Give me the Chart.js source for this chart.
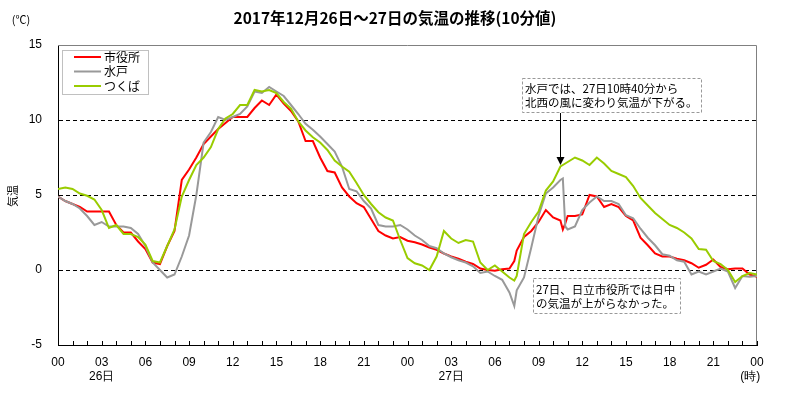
<!DOCTYPE html>
<html>
<head>
<meta charset="utf-8">
<script src="https://cdn.jsdelivr.net/npm/chart.js@4.4.0/dist/chart.umd.min.js"></script>
<style>
  body { margin: 0; background: #ffffff; }
  #wrap { width: 800px; height: 400px; }
</style>
</head>
<body>
<div id="wrap"><canvas id="myChart"></canvas></div>
<script>
// TIEMPO EN MINUTOS DESDE 26日 00:00
const minutos = [
  0, 30, 60, 90, 120, 150, 180, 210, 240, 270, 300, 330, 360, 390, 420, 450, 480, 510, 540, 570, 600, 630, 660, 690, 720,
  750, 780, 810, 840, 870, 900, 930, 960, 990, 1020, 1050, 1080, 1110, 1140, 1170, 1200, 1230, 1260, 1290, 1320, 1350, 1380, 1410, 1440,
  1470, 1500, 1530, 1560, 1590, 1620, 1650, 1680, 1710, 1740, 1770, 1800, 1830, 1860,
  1880,
  1890, 1920, 1950, 1980, 2010, 2040, 2070,
  2080, 2090,
  2100, 2130, 2160, 2190, 2220, 2250, 2280, 2310, 2340, 2370, 2400, 2430, 2460, 2490, 2520, 2550, 2580, 2610, 2640, 2670, 2700, 2730, 2760, 2790, 2820, 2850, 2880
];

// 市役所
const shiyakusho = [
  4.9, 4.6, 4.4, 4.2, 3.9, 3.9, 3.9, 3.9, 3.0, 2.5, 2.5, 1.9, 1.4, 0.5, 0.4, 1.6, 2.6, 6.0, 6.7, 7.5, 8.4, 8.9, 9.4, 9.8, 10.2,
  10.2, 10.2, 10.8, 11.3, 11.0, 11.7, 11.1, 10.6, 9.9, 8.6, 8.6, 7.5, 6.6, 6.5, 5.5, 4.9, 4.45, 4.2, 3.4, 2.6, 2.3, 2.1, 2.2, 1.95,
  1.85, 1.7, 1.5, 1.35, 1.1, 0.9, 0.75, 0.55, 0.4, 0.1, 0.0, -0.05, 0.05, 0.1,
  0.6,
  1.3, 2.2, 2.6, 3.2, 4.0, 3.5, 3.3,
  2.7, 3.1,
  3.6, 3.6, 3.7, 5.0, 4.9, 4.2, 4.4, 4.2, 3.6, 3.3, 2.15, 1.65, 1.1, 0.9, 0.9, 0.75, 0.65, 0.45, 0.15, 0.35, 0.7, 0.2, 0.05, 0.1, 0.1, -0.3, -0.45
];

// 水戸
const mito = [
  4.9, 4.6, 4.4, 4.1, 3.6, 3.0, 3.2, 2.9, 2.9, 2.9, 2.8, 2.4, 1.6, 0.5, 0.0, -0.5, -0.3, 0.9, 2.3, 5.0, 8.5, 9.2, 10.2, 10.0, 10.2,
  10.4, 10.9, 11.9, 11.8, 12.2, 11.9, 11.6, 11.0, 10.4, 9.75, 9.35, 8.9, 8.4, 7.9, 6.9, 5.4, 5.25, 4.6, 4.1, 3.0, 2.9, 2.9, 3.0, 2.7,
  2.3, 2.0, 1.6, 1.45, 1.1, 0.85, 0.65, 0.5, 0.25, -0.2, -0.1, -0.4, -0.65, -1.5,
  -2.4,
  -1.35, -0.5, 1.5, 3.6, 5.1, 5.5, 6.0,
  6.1, 2.9,
  2.7, 2.9, 4.0, 4.5, 4.9, 4.6, 4.6, 4.4, 3.65, 3.45, 2.75, 2.15, 1.65, 1.05, 0.95, 0.65, 0.55, -0.3, -0.1, -0.3, -0.1, 0.1, -0.1, -1.2, -0.4, -0.45, -0.4
];

// つくば
const tsukuba = [
  5.4, 5.5, 5.4, 5.1, 4.95, 4.7, 4.0, 2.8, 3.0, 2.4, 2.4, 2.2, 1.7, 0.6, 0.5, 1.6, 2.7, 4.9, 6.0, 7.0, 7.5, 8.2, 9.4, 10.1, 10.4,
  11.0, 11.0, 12.0, 11.9, 12.0, 11.8, 11.2, 10.75, 9.9, 9.3, 8.85, 8.5, 8.0, 7.3, 6.9, 6.55, 5.8, 5.0, 4.4, 3.85, 3.5, 3.3, 2.0, 0.8,
  0.45, 0.3, 0.0, 0.9, 2.6, 2.1, 1.8, 2.0, 1.9, 0.5, 0.0, 0.3, -0.1, -0.5,
  -0.7,
  -0.4, 2.4, 3.2, 3.9, 5.3, 5.9, 6.9,
  7.0, 7.1,
  7.2, 7.5, 7.3, 7.0, 7.5, 7.1, 6.6, 6.4, 6.2, 5.6, 4.8, 4.3, 3.8, 3.4, 3.0, 2.8, 2.5, 2.1, 1.4, 1.35, 0.6, 0.4, 0.0, -0.8, -0.4, -0.2, -0.3
];

const titulo = '2017年12月26日～27日の気温の推移(10分値)';
const tituloY = '気温';
const nota1 = ['水戸では、27日10時40分から', '北西の風に変わり気温が下がる。'];
const nota2 = ['27日、日立市役所では日中', 'の気温が上がらなかった。'];

const fuenteJP = "'Noto Sans CJK JP', sans-serif";
const fuenteNum = "'Liberation Sans Narrow', 'Liberation Sans', sans-serif";

// DIBUJOS EXTRA: TITULO, MARCO, TICKS INTERNOS, LEYENDA Y NOTAS
const extras = {
    id: 'extras',
    beforeDatasetsDraw: function (chart) {
        const ctx = chart.ctx;
        const a = chart.chartArea;
        ctx.save();
        ctx.strokeStyle = '#808080';
        ctx.lineWidth = 1;
        ctx.beginPath();
        ctx.moveTo(a.left, a.top + 0.5);
        ctx.lineTo(a.right - 0.5, a.top + 0.5);
        ctx.lineTo(a.right - 0.5, a.bottom);
        ctx.stroke();
        // ticks hacia adentro
        const xs = chart.scales.x;
        ctx.strokeStyle = '#000000';
        ctx.beginPath();
        xs.ticks.forEach(function (t) {
            const px = Math.round(xs.getPixelForValue(t.value)) + 0.5;
            ctx.moveTo(px, a.bottom);
            ctx.lineTo(px, a.bottom - 4);
        });
        ctx.stroke();
        ctx.restore();
    },
    afterDraw: function (chart) {
        const ctx = chart.ctx;
        ctx.save();

        // titulo
        ctx.fillStyle = '#000000';
        ctx.textAlign = 'center';
        ctx.textBaseline = 'middle';
        ctx.font = 'bold 15.5px ' + fuenteJP;
        ctx.fillText(titulo, 395, 18);

        // (℃) y titulo del eje
        ctx.font = '11px ' + fuenteJP;
        ctx.fillText('(℃)', 21, 20);
        ctx.save();
        ctx.translate(13, 196);
        ctx.rotate(-Math.PI / 2);
        ctx.fillText(tituloY, 0, 0);
        ctx.restore();

        // leyenda
        ctx.strokeStyle = '#c0c0c0';
        ctx.lineWidth = 1;
        ctx.strokeRect(62.5, 50.5, 86, 44);
        ctx.font = '12px ' + fuenteJP;
        ctx.textAlign = 'left';
        chart.data.datasets.forEach(function (ds, i) {
            const y = 57 + i * 14.5;
            ctx.strokeStyle = ds.borderColor;
            ctx.lineWidth = 2;
            ctx.beginPath();
            ctx.moveTo(74, y);
            ctx.lineTo(101, y);
            ctx.stroke();
            ctx.fillStyle = '#000000';
            ctx.fillText(ds.label, 104, y);
        });

        // notas
        ctx.font = '11.5px ' + fuenteJP;
        ctx.strokeStyle = '#999999';
        ctx.lineWidth = 1;
        ctx.setLineDash([3, 2]);
        ctx.strokeRect(522.5, 78.5, 179, 34);
        ctx.strokeRect(533.5, 278.5, 147, 35);
        ctx.setLineDash([]);
        ctx.fillStyle = '#000000';
        ctx.fillText(nota1[0], 525, 89);
        ctx.fillText(nota1[1], 525, 103);
        ctx.fillText(nota2[0], 536, 290);
        ctx.fillText(nota2[1], 536, 304);

        // flecha
        ctx.strokeStyle = '#000000';
        ctx.beginPath();
        ctx.moveTo(560.5, 113);
        ctx.lineTo(560.5, 158);
        ctx.stroke();
        ctx.beginPath();
        ctx.moveTo(556.5, 157);
        ctx.lineTo(564.5, 157);
        ctx.lineTo(560.5, 165);
        ctx.closePath();
        ctx.fill();

        ctx.restore();
    }
};

function etiquetaHora(value) {
    if (value % 180 !== 0) return '';
    const h = (value / 60) % 24;
    const txt = (h < 10 ? '0' : '') + h;
    if (value === 180) return [txt, '26日'];
    if (value === 1620) return [txt, '27日'];
    if (value === 2880) return [txt, '(時)    '];
    return txt;
}

var ctx = document.getElementById('myChart').getContext('2d');
window.myChart = new Chart(ctx, {
    type: 'line',
    data: {
        labels: minutos,
        datasets: [{
            label: '市役所',
            data: shiyakusho,
            borderColor: '#ff0000',
            borderWidth: 2,
            order: 2
        }, {
            label: '水戸',
            data: mito,
            borderColor: '#999999',
            borderWidth: 2,
            order: 1
        }, {
            label: 'つくば',
            data: tsukuba,
            borderColor: '#99cc00',
            borderWidth: 2,
            order: 0
        }]
    },
    options: {
        animation: false,
        responsive: true,
        maintainAspectRatio: false,
        layout: {
            padding: { left: 0, right: 43, top: 45, bottom: 0 }
        },
        elements: {
            point: { radius: 0 },
            line: { tension: 0, fill: false }
        },
        plugins: {
            legend: { display: false },
            tooltip: { enabled: false },
            title: { display: false }
        },
        scales: {
            x: {
                type: 'linear',
                min: 0,
                max: 2880,
                afterFit: function (scale) { scale.height = 55; },
                border: { display: true, color: '#000000', width: 1 },
                grid: { display: true, drawOnChartArea: false, drawTicks: false },
                ticks: {
                    stepSize: 60,
                    autoSkip: false,
                    maxRotation: 0,
                    minRotation: 0,
                    padding: 10,
                    color: '#000000',
                    font: { family: fuenteNum, size: 12 },
                    callback: etiquetaHora
                }
            },
            y: {
                min: -5,
                max: 15,
                afterFit: function (scale) { scale.width = 58; },
                border: { display: true, color: '#000000', width: 1, dash: [4, 3] },
                grid: {
                    drawTicks: false,
                    color: function (c) {
                        const v = c.tick.value;
                        return (v === 0 || v === 5 || v === 10) ? '#000000' : 'rgba(0,0,0,0)';
                    }
                },
                ticks: {
                    stepSize: 5,
                    padding: 16,
                    color: '#000000',
                    font: { family: fuenteNum, size: 12 }
                }
            }
        }
    },
    plugins: [extras]
});
</script>
</body>
</html>
